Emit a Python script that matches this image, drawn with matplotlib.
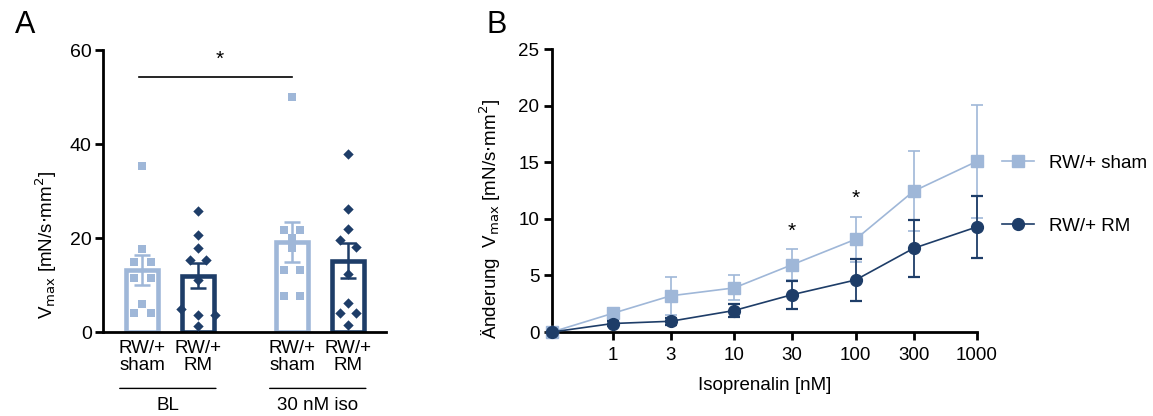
import numpy as np
import matplotlib
matplotlib.use('Agg')
import matplotlib.pyplot as plt
from matplotlib.lines import Line2D

plt.rcParams['font.family'] = ['Liberation Sans', 'DejaVu Sans']

# ---- data, panel A ----
group_labels = ['RW/+\nsham', 'RW/+\nRM', 'RW/+\nsham', 'RW/+\nRM']
bl_sham = [35.4, 17.6, 14.8, 14.8, 11.4, 11.4, 6.0, 4.0, 4.0]
bl_rm = [25.7, 20.6, 17.8, 15.4, 15.4, 11.0, 5.0, 3.7, 3.7, 1.3]
iso_sham = [49.9, 21.8, 21.8, 19.9, 17.9, 13.1, 13.1, 7.7, 7.7]
iso_rm = [37.9, 26.2, 22.0, 19.6, 18.0, 12.3, 6.2, 4.1, 4.1, 1.5]
condition_labels = ['BL', '30 nM iso']

# ---- data, panel B ----
conc = [0, 1, 3, 10, 30, 100, 300, 1000]
sham_mean = [0, 1.65, 3.2, 3.9, 5.95, 8.2, 12.45, 15.1]
sham_sem = [0, 0.5, 1.7, 1.1, 1.35, 2.0, 3.55, 5.0]
rm_mean = [0, 0.75, 0.95, 1.9, 3.3, 4.6, 7.4, 9.3]
rm_sem = [0, 0.2, 0.3, 0.6, 1.25, 1.85, 2.5, 2.75]
sig_conc = [30, 100]
series_labels = ['RW/+ sham', 'RW/+ RM']

LIGHT = '#9fb7d8'
DARK = '#1e3d68'


def swarm_offsets(vals, step=0.3, gap=1.9):
    # group close values into rows and spread each row symmetrically
    order = np.argsort(vals)[::-1]
    offs = np.zeros(len(vals))
    row = []
    for i in list(order) + [None]:
        if i is not None and row and vals[row[0]] - vals[i] < gap:
            row.append(i)
            continue
        n = len(row)
        for k, j in enumerate(row):
            offs[j] = (k - (n - 1) / 2) * step
        row = [i]
    return offs


fig = plt.figure(figsize=(11.53, 4.16), dpi=100)

# ================= panel A =================
axA = fig.add_axes([0.0893, 0.2019, 0.2455, 0.6779])
xpos = [0, 1, 2.68, 3.68]
groups = [bl_sham, bl_rm, iso_sham, iso_rm]
colors = [LIGHT, DARK, LIGHT, DARK]
markers = ['s', 'D', 's', 'D']
msize = [32, 28, 32, 28]

for x, vals, c, m, s in zip(xpos, groups, colors, markers, msize):
    vals = np.array(vals)
    mean = vals.mean()
    sem = vals.std(ddof=1) / np.sqrt(len(vals))
    axA.bar(x, mean, width=0.57, facecolor='white', edgecolor=c,
            linewidth=3.3, zorder=2)
    axA.scatter(x + swarm_offsets(vals), vals, marker=m, s=s, color=c,
                linewidths=0, zorder=3)
    axA.errorbar(x, mean, yerr=sem, color=c, capsize=6, elinewidth=1.8,
                 capthick=1.8, zorder=4)

axA.set_xlim(-0.7, 4.36)
axA.set_ylim(0, 60)
axA.set_yticks([0, 20, 40, 60])
axA.set_xticks(xpos)
axA.set_xticklabels(group_labels, fontsize=13.5, linespacing=1.0)
axA.tick_params(axis='x', length=0, pad=6)
axA.tick_params(axis='y', length=6, width=2, labelsize=14, pad=2)
for sp in ['top', 'right']:
    axA.spines[sp].set_visible(False)
for sp in ['left', 'bottom']:
    axA.spines[sp].set_linewidth(2)
axA.set_ylabel('V$_{\\mathrm{max}}$ [mN/s$\\cdot$mm$^{2}$]', fontsize=13.5)
axA.yaxis.set_label_coords(-0.155, 0.31)

# significance bar between BL sham and iso sham
axA.plot([xpos[0] - 0.05, xpos[2]], [54.2, 54.2], color='black', lw=1.2,
         clip_on=False)
axA.text((xpos[0] + xpos[2]) / 2 + 0.05, 56, '*', ha='center', va='bottom',
         fontsize=15)

# group lines and labels below axis
for (a, b), lab in zip([(0, 1), (2, 3)], condition_labels):
    x0, x1 = xpos[a] - 0.4, xpos[b] + 0.32
    axA.annotate('', xy=(x0, -0.2), xytext=(x1, -0.2),
                 xycoords=('data', 'axes fraction'),
                 textcoords=('data', 'axes fraction'),
                 arrowprops=dict(arrowstyle='-', lw=1.0, color='black',
                                 shrinkA=0, shrinkB=0))
    axA.text((xpos[a] + xpos[b]) / 2 - 0.04, -0.23, lab, ha='center', va='top',
             fontsize=13.5, transform=axA.get_xaxis_transform())

fig.text(0.013, 0.975, 'A', fontsize=22, va='top')

# ================= panel B =================
axB = fig.add_axes([0.4787, 0.2019, 0.3687, 0.6796])
conc_arr = np.array(conc, dtype=float)
xb = np.where(conc_arr > 0, np.log10(np.where(conc_arr > 0, conc_arr, 1)), -0.5)

axB.errorbar(xb, sham_mean, yerr=sham_sem, color=LIGHT, marker='s', ms=8,
             lw=1.2, elinewidth=1.2, capsize=4.6, capthick=1.2,
             zorder=3, clip_on=False)
axB.errorbar(xb, rm_mean, yerr=rm_sem, color=DARK, marker='o', ms=8.5,
             lw=1.2, elinewidth=1.3, capsize=4.6, capthick=1.6,
             zorder=4, clip_on=False)

for c in sig_conc:
    i = conc.index(c)
    top = max(sham_mean[i] + sham_sem[i], rm_mean[i] + rm_sem[i])
    axB.text(xb[i], top + 0.8, '*', ha='center', va='bottom', fontsize=15)

axB.set_xlim(-0.5, 3.0)
axB.set_ylim(0, 25)
axB.set_yticks([0, 5, 10, 15, 20, 25])
axB.set_xticks(xb[1:])
axB.set_xticklabels([str(c) for c in conc[1:]])
axB.tick_params(axis='both', length=6, width=2, labelsize=13.5, pad=3)
axB.tick_params(axis='x', pad=5)
for sp in ['top', 'right']:
    axB.spines[sp].set_visible(False)
for sp in ['left', 'bottom']:
    axB.spines[sp].set_linewidth(2)
axB.set_xlabel('Isoprenalin [nM]', fontsize=13.5, labelpad=9)
axB.set_ylabel('Änderung  V$_{\\mathrm{max}}$ [mN/s$\\cdot$mm$^{2}$]',
               fontsize=13.5)
axB.yaxis.set_label_coords(-0.115, 0.40)

handles = [Line2D([0], [0], color=LIGHT, marker='s', ms=8, lw=1.2),
           Line2D([0], [0], color=DARK, marker='o', ms=8.5, lw=1.2)]
axB.legend(handles, series_labels, loc='center left',
           bbox_to_anchor=(1.02, 0.486), frameon=False, fontsize=13.5,
           handlelength=1.67, labelspacing=2.45, handletextpad=0.8)

fig.text(0.422, 0.975, 'B', fontsize=22, va='top')

fig.savefig('out.png', dpi=100)
